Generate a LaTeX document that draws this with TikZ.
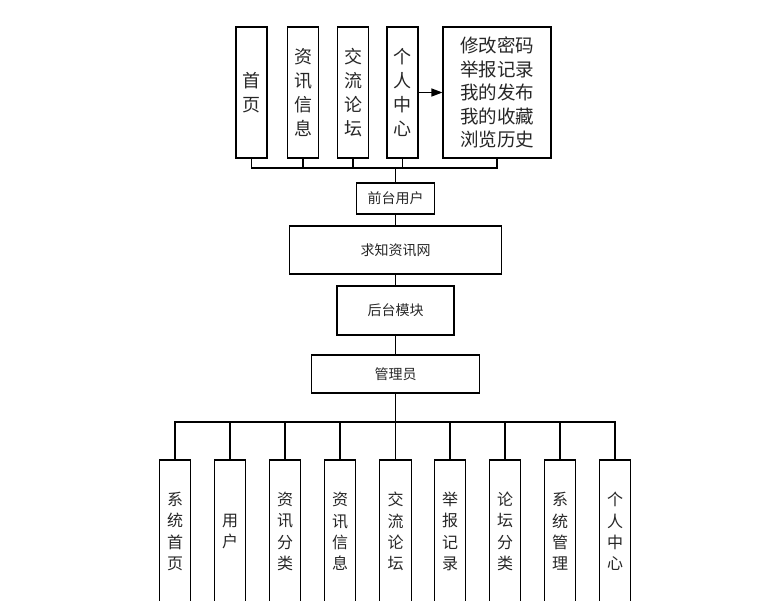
\documentclass[tikz,border=0pt]{standalone}
\usepackage{fontspec}
\setmainfont{Noto Sans CJK SC}
\usetikzlibrary{arrows.meta}
\begin{document}
\begin{tikzpicture}[x=1pt,y=-1pt,
  box/.style={draw=black,line width=1.1pt,rectangle,inner sep=0pt,align=center,text=black!85},
  topv/.style={box,minimum width=31pt,minimum height=131pt,font=\fontsize{18}{24}\selectfont},
  midbox/.style={box,font=\fontsize{14}{16}\selectfont},
  botv/.style={box,minimum width=31.5pt,minimum height=143pt,font=\fontsize{16}{21.3}\selectfont},
  link/.style={draw=black,line width=1.1pt}]
\useasboundingbox (0,0) rectangle (779,600);
% top row
\node[topv] (n1) at (251.5,92.5) {首\\页};
\node[topv] (n2) at (303,92.5) {资\\讯\\信\\息};
\node[topv] (n3) at (353,92.5) {交\\流\\论\\坛};
\node[topv] (n4) at (402.5,92.5) {个\\人\\中\\心};
\node[box,minimum width=108pt,minimum height=131pt,font=\fontsize{18.5}{23.5}\selectfont] (r) at (497,92.5) {修改密码\\举报记录\\我的发布\\我的收藏\\浏览历史};
\coordinate (tb) at (395.5,168);
% middle column
\node[midbox,minimum width=78pt,minimum height=31pt] (qt) at (395.5,198.5) {前台用户};
\node[midbox,minimum width=212pt,minimum height=48pt] (web) at (395.5,250) {求知资讯网};
\node[midbox,minimum width=117pt,minimum height=49pt] (back) at (395.5,310.5) {后台模块};
\node[midbox,minimum width=168pt,minimum height=38pt] (admin) at (395.5,374) {管理员};
\coordinate (bb) at (395.5,422);
% bottom row
\node[botv] (b1) at (175,531.5) {系\\统\\首\\页};
\node[botv] (b2) at (230,531.5) {用\\户};
\node[botv] (b3) at (285,531.5) {资\\讯\\分\\类};
\node[botv] (b4) at (340,531.5) {资\\讯\\信\\息};
\node[botv] (b5) at (395.5,531.5) {交\\流\\论\\坛};
\node[botv] (b6) at (450,531.5) {举\\报\\记\\录};
\node[botv] (b7) at (505,531.5) {论\\坛\\分\\类};
\node[botv] (b8) at (560,531.5) {系\\统\\管\\理};
\node[botv] (b9) at (615,531.5) {个\\人\\中\\心};
% connectors top
\foreach \n in {n1,n2,n3,n4,r}{\draw[link] (\n.south) |- (tb) -- (qt.north);}
\draw[link,-{Triangle[length=11pt,width=8pt]}] (n4.east) -- (r.west);
% middle
\draw[link] (qt.south) -- (web.north);
\draw[link] (web.south) -- (back.north);
\draw[link] (back.south) -- (admin.north);
% bottom
\foreach \b in {b1,b2,b3,b4,b5,b6,b7,b8,b9}{\draw[link] (admin.south) -- (bb) -| (\b.north);}
\end{tikzpicture}
\end{document}
